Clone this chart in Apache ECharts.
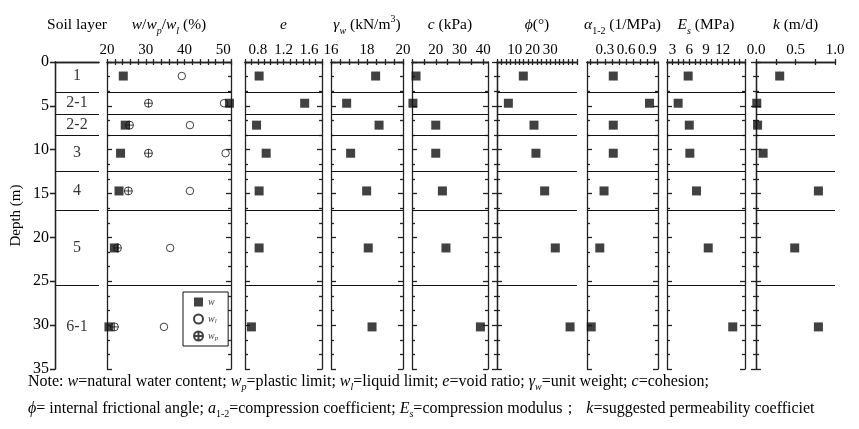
<!DOCTYPE html>
<html>
<head>
<meta charset="utf-8">
<script src="https://cdn.jsdelivr.net/npm/echarts@6/dist/echarts.min.js"></script>
</head>
<body style="margin:0;background:#fff">
<div id="container" style="width:859px;height:429px"></div>
<script>
// soil layers and depths (m)
var layerNames = ['1', '2-1', '2-2', '3', '4', '5', '6-1'];
var layerDepth = [1.6, 4.7, 7.2, 10.4, 14.7, 21.2, 30.2];
var layerBottom = [3.4, 5.9, 8.4, 12.4, 16.9, 25.4];

// properties per layer
var wNatural   = [24.2, 51.6, 24.7, 23.5, 23.1, 21.9, 20.5];
var wLiquid    = [39.3, 50.2, 41.4, 50.6, 41.4, 36.3, 34.7];
var wPlastic   = [null, 30.7, 25.8, 30.7, 25.5, 22.7, 21.9];
var voidRatio  = [0.82, 1.53, 0.78, 0.93, 0.82, 0.82, 0.70];
var unitWeight = [18.48, 16.87, 18.67, 17.09, 17.98, 18.07, 18.28];
var cohesion   = [11.7, 10.4, 20.0, 20.0, 22.8, 24.3, 38.8];
var friction   = [14.8, 6.4, 20.8, 21.9, 26.8, 32.8, 41.1];
var compCoef   = [0.42, 0.93, 0.42, 0.42, 0.29, 0.23, 0.11];
var compMod    = [5.8, 4.0, 6.0, 6.1, 7.3, 9.4, 13.8];
var permeab    = [0.30, 0.01, 0.02, 0.09, 0.79, 0.49, 0.79];

// tick labels
var wLabels   = [20, 30, 40, 50];
var eLabels   = [0.8, 1.2, 1.6];
var gLabels   = [16, 18, 20];
var cLabels   = [20, 30, 40];
var phiLabels = [10, 20, 30];
var aLabels   = [0.3, 0.6, 0.9];
var esLabels  = [3, 6, 9, 12];
var kLabels   = [0.0, 0.5, 1.0];

var serif = 'Liberation Serif';
var ink = '#111';

function tickRange(a, b, s) {
    var out = [];
    for (var v = a; v <= b + 1e-9; v += s) out.push(+v.toFixed(4));
    return out;
}
function pairs(vals) {
    var out = [];
    for (var i = 0; i < vals.length; i++) {
        if (vals[i] != null) out.push([vals[i], layerDepth[i]]);
    }
    return out;
}

var rich = {
    i:   {fontFamily: serif, fontSize: 15.5, fontStyle: 'italic', lineHeight: 22},
    sb:  {fontFamily: serif, fontSize: 10, fontStyle: 'italic', verticalAlign: 'bottom', lineHeight: 10},
    sbn: {fontFamily: serif, fontSize: 10, verticalAlign: 'bottom', lineHeight: 10},
    sp:  {fontFamily: serif, fontSize: 10, verticalAlign: 'top', lineHeight: 10}
};

var panels = [
    {left: 55,  width: 44,  min: 0,    max: 1,    title: 'Soil layer'},
    {left: 107, width: 124, min: 20,   max: 52,   ticks: tickRange(20, 52, 2),    labels: wLabels,   dec: 0, title: '{i|w}/{i|w}{sb|p}/{i|w}{sb|l} (%)'},
    {left: 245, width: 77,  min: 0.6,  max: 1.8,  ticks: tickRange(0.6, 1.8, 0.1), labels: eLabels,   dec: 1, title: '{i|e}', values: voidRatio},
    {left: 331, width: 72,  min: 16,   max: 20,   ticks: tickRange(16, 20, 0.5),  labels: gLabels,   dec: 0, title: '{i|γ}{sb|w} (kN/m{sp|3})', values: unitWeight},
    {left: 412, width: 76,  min: 10,   max: 42,   ticks: tickRange(10, 40, 5),    labels: cLabels,   dec: 0, title: '{i|c} (kPa)', values: cohesion},
    {left: 497, width: 80,  min: 0,    max: 45,   ticks: tickRange(0, 45, 2.5),   labels: phiLabels, dec: 0, title: '{i|ϕ}(°)', values: friction},
    {left: 587, width: 71,  min: 0.05, max: 1.05, ticks: tickRange(0.1, 1.0, 0.1), labels: aLabels,  dec: 1, title: '{i|α}{sbn|1-2} (1/MPa)', values: compCoef},
    {left: 667, width: 78,  min: 2,    max: 16,   ticks: tickRange(2, 16, 1),     labels: esLabels,  dec: 0, title: '{i|E}{sb|s} (MPa)', values: compMod},
    {left: 756, width: 79,  min: 0,    max: 1,    ticks: tickRange(0, 1, 0.25),   labels: kLabels,   dec: 1, title: '{i|k} (m/d)', values: permeab}
];

var lineStyle = {color: '#222', width: 1.3};

function layerLines() {
    return {
        silent: true, symbol: ['none', 'none'], animation: false,
        label: {show: false},
        lineStyle: {color: ink, width: 1.2, type: 'solid'},
        data: layerBottom.map(function (d) { return {yAxis: d}; })
    };
}

var grids = [], xAxes = [], yAxes = [], series = [];
var plusPath = 'path://M1,10A9,9 0 1,1 19,10A9,9 0 1,1 1,10Z M1,10L19,10 M10,1L10,19';

panels.forEach(function (p, g) {
    var soil = g === 0;
    grids.push({left: p.left, width: p.width, top: 62, height: 307});
    var dec = p.dec;
    xAxes.push({
        type: 'value', gridIndex: g, position: 'top', min: p.min, max: p.max,
        name: p.title, nameLocation: 'middle', nameGap: 26,
        nameTextStyle: {fontFamily: serif, fontSize: 15.5, color: '#000', lineHeight: 22, rich: rich},
        axisLine: {show: true, lineStyle: lineStyle},
        axisTick: soil ? {show: false} : {show: true, inside: true, length: 3, customValues: p.ticks, lineStyle: lineStyle},
        axisLabel: soil ? {show: false} : {
            show: true, margin: 4, fontFamily: serif, fontSize: 15, color: '#000',
            customValues: p.labels,
            formatter: function (v) { return v.toFixed(dec); }
        },
        splitLine: {show: false}
    });
    xAxes.push({
        type: 'value', gridIndex: g, position: 'bottom', min: p.min, max: p.max,
        axisLine: {show: true, lineStyle: lineStyle},
        axisTick: soil ? {show: false} : {show: true, inside: true, length: 3, customValues: p.ticks, lineStyle: lineStyle},
        axisLabel: {show: false},
        splitLine: {show: false}
    });
    yAxes.push({
        type: 'value', gridIndex: g, position: 'left', inverse: true, min: 0, max: 35, interval: 5,
        name: soil ? 'Depth (m)' : '', nameLocation: 'middle', nameGap: 31,
        nameTextStyle: {fontFamily: serif, fontSize: 15, color: '#000'},
        axisLine: {show: true, lineStyle: lineStyle},
        axisTick: {show: true, inside: !soil, length: 5, lineStyle: lineStyle},
        minorTick: {show: !soil, splitNumber: 3, length: 3, lineStyle: lineStyle},
        axisLabel: {show: soil, margin: 6, fontFamily: serif, fontSize: 16, color: '#000'},
        splitLine: {show: false}
    });
    yAxes.push({
        type: 'value', gridIndex: g, position: 'right', inverse: true, min: 0, max: 35, interval: 5,
        axisLine: {show: true, lineStyle: lineStyle},
        axisTick: {show: true, inside: true, length: 5, lineStyle: lineStyle},
        minorTick: {show: !soil, splitNumber: 3, length: 3, lineStyle: lineStyle},
        axisLabel: {show: false},
        splitLine: {show: false}
    });

    var ax = 2 * g;
    if (soil) {
        series.push({
            type: 'scatter', xAxisIndex: ax, yAxisIndex: ax, symbolSize: 1,
            itemStyle: {color: 'transparent'}, silent: true,
            data: layerNames.map(function (n, i) { return [0.5, layerDepth[i], n]; }),
            label: {show: true, position: 'inside', fontFamily: serif, fontSize: 16, color: '#000',
                formatter: function (prm) { return prm.value[2]; }},
            markLine: layerLines()
        });
    } else if (g === 1) {
        series.push({
            name: 'wl', type: 'scatter', xAxisIndex: ax, yAxisIndex: ax, symbol: 'circle', symbolSize: 7.5,
            itemStyle: {color: '#fff', borderColor: ink, borderWidth: 1},
            data: pairs(wLiquid), markLine: layerLines()
        });
        series.push({
            name: 'wp', type: 'scatter', xAxisIndex: ax, yAxisIndex: ax, symbol: plusPath, symbolSize: 8,
            itemStyle: {color: '#fff', borderColor: ink, borderWidth: 1},
            data: pairs(wPlastic)
        });
        series.push({
            name: 'w', type: 'scatter', xAxisIndex: ax, yAxisIndex: ax, symbol: 'rect', symbolSize: 9,
            itemStyle: {color: ink}, data: pairs(wNatural)
        });
    } else {
        series.push({
            type: 'scatter', xAxisIndex: ax, yAxisIndex: ax, symbol: 'rect', symbolSize: 9,
            itemStyle: {color: ink}, data: pairs(p.values), markLine: layerLines()
        });
    }
});

var noteRich = {
    i:   {fontFamily: serif, fontSize: 16, fontStyle: 'italic', lineHeight: 20},
    sb:  {fontFamily: serif, fontSize: 10, fontStyle: 'italic', verticalAlign: 'bottom', lineHeight: 9},
    sbn: {fontFamily: serif, fontSize: 10, verticalAlign: 'bottom', lineHeight: 9}
};
var note1 = 'Note: {i|w}=natural water content; {i|w}{sb|p}=plastic limit; {i|w}{sb|l}=liquid limit; {i|e}=void ratio; {i|γ}{sb|w}=unit weight; {i|c}=cohesion;';
var note2 = '{i|ϕ}= internal frictional angle; {i|a}{sbn|1-2}=compression coefficient; {i|E}{sb|s}=compression modulus；  {i|k}=suggested permeability coefficiet';

var chart = echarts.init(document.getElementById('container'));
chart.setOption({
    animation: false,
    backgroundColor: '#fff',
    grid: grids,
    xAxis: xAxes,
    yAxis: yAxes,
    series: series,
    legend: {
        left: 183, top: 292, orient: 'vertical',
        padding: [4, 10, 4, 10], itemGap: 5, itemWidth: 9, itemHeight: 9,
        borderColor: ink, borderWidth: 1, backgroundColor: '#fff',
        data: [{name: 'w', icon: 'rect'}, {name: 'wl', icon: 'circle'}, {name: 'wp', icon: plusPath}],
        formatter: function (n) { return {w: 'w', wl: 'w{s|l}', wp: 'w{s|p}'}[n]; },
        textStyle: {fontFamily: serif, fontStyle: 'italic', fontSize: 10, color: '#444', lineHeight: 12,
            rich: {s: {fontFamily: serif, fontStyle: 'italic', fontSize: 7, color: '#444', verticalAlign: 'bottom', lineHeight: 6}}},
        selectedMode: false
    },
    graphic: [
        {type: 'text', left: 28, top: 372, style: {text: note1, fontFamily: serif, fontSize: 16, lineHeight: 20, fill: '#000', rich: noteRich}},
        {type: 'text', left: 28, top: 399, style: {text: note2, fontFamily: serif, fontSize: 16, lineHeight: 20, fill: '#000', rich: noteRich}}
    ]
});
</script>
</body>
</html>
